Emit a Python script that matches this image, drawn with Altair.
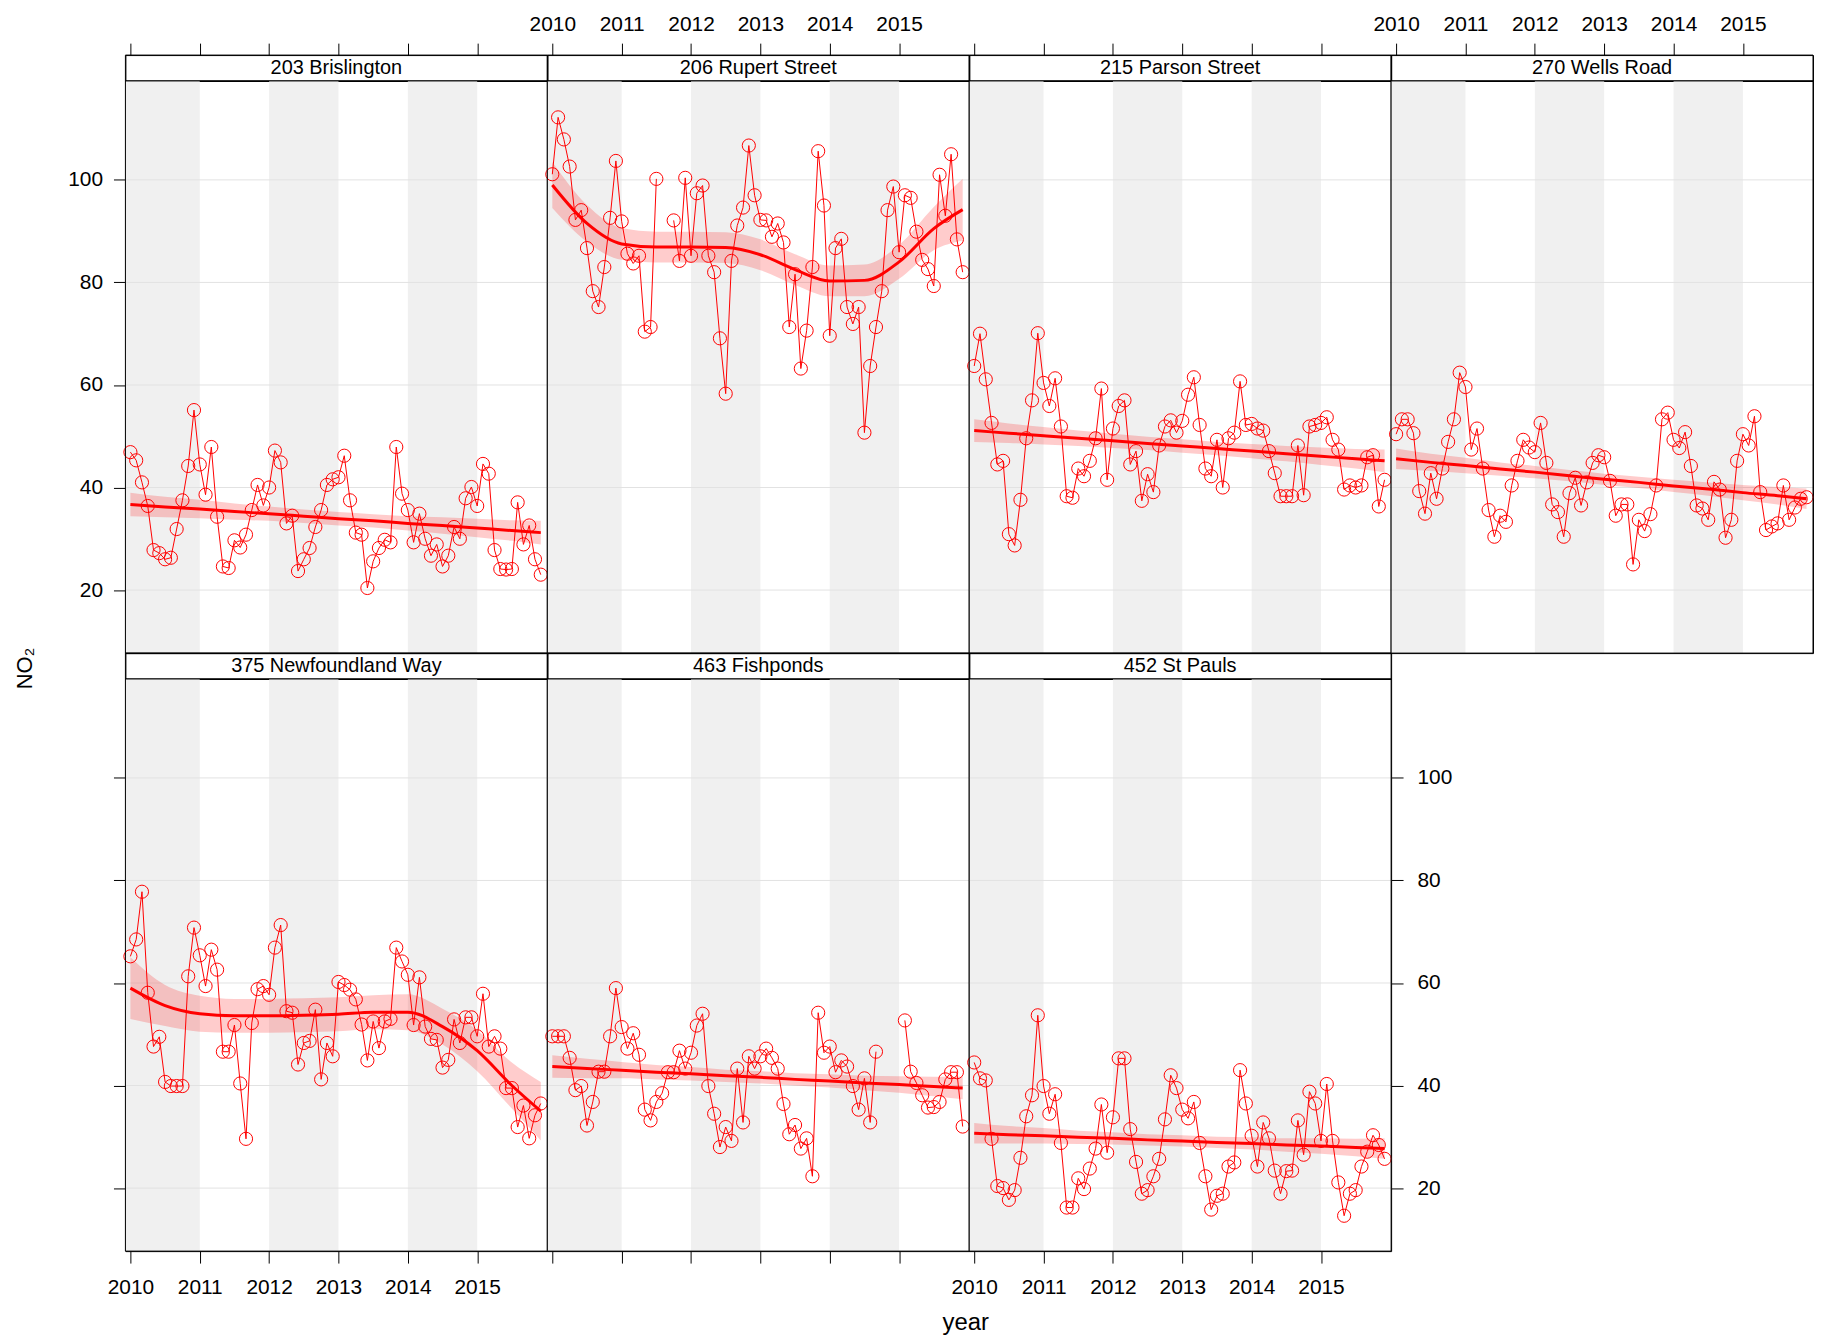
import altair as alt
import pandas as pd

FONT = "Liberation Sans"

SITES = ["203 Brislington", "206 Rupert Street", "215 Parson Street", "270 Wells Road",
         "375 Newfoundland Way", "463 Fishponds", "452 St Pauls"]
START_YEAR = 2010
N_MONTHS = 72

NO2_203 = [46.9, 45.3, 41.0, 36.4, 27.8, 27.2, 26.0, 26.3, 31.9, 37.5, 44.2, 55.1,
           44.5, 38.6, 47.9, 34.3, 24.6, 24.3, 29.7, 28.3, 30.8, 35.6, 40.5, 36.5,
           40.0, 47.2, 44.9, 33.0, 34.5, 23.7, 26.0, 28.2, 32.3, 35.6, 40.5, 41.6,
           42.0, 46.2, 37.5, 31.2, 30.8, 20.4, 25.6, 28.2, 29.8, 29.3, 47.9, 38.8,
           35.6, 29.3, 34.9, 30.0, 26.7, 28.9, 24.6, 26.7, 32.3, 30.0, 37.9, 40.1,
           36.4, 44.6, 42.7, 27.8, 24.1, 24.0, 24.1, 37.1, 28.9, 32.6, 26.0, 23.0]
NO2_206 = [101.1, 112.2, 107.9, 102.6, 92.2, 94.1, 86.7, 78.3, 75.2, 83.0, 92.6, 103.7,
           91.9, 85.6, 83.7, 85.2, 70.4, 71.3, 100.2, None, None, 92.1, 84.2, 100.4,
           85.2, 97.4, 98.9, 85.2, 82.0, 69.1, 58.3, 84.2, 91.1, 94.6, 106.7, 97.0,
           92.2, 92.1, 88.9, 91.5, 87.8, 71.3, 81.6, 63.2, 70.6, 83.0, 105.6, 95.0,
           69.6, 86.7, 88.5, 75.2, 71.9, 75.2, 50.7, 63.7, 71.3, 78.3, 94.1, 98.7,
           85.9, 97.0, 96.5, 89.9, 84.4, 82.6, 79.3, 101.0, 93.0, 105.0, 88.4, 82.0]
NO2_215 = [63.7, 70.0, 61.1, 52.6, 44.5, 45.2, 30.9, 28.7, 37.6, 49.6, 57.0, 70.1,
           60.4, 55.9, 61.3, 51.9, 38.3, 38.0, 43.7, 42.2, 45.2, 49.6, 59.3, 41.5,
           51.5, 55.9, 57.0, 44.5, 47.1, 37.4, 42.6, 39.1, 48.2, 51.9, 53.1, 50.7,
           53.0, 58.1, 61.5, 52.2, 43.7, 42.2, 49.3, 40.0, 49.6, 50.7, 60.7, 52.2,
           52.4, 51.5, 51.1, 47.1, 42.8, 38.3, 38.3, 38.3, 48.2, 38.5, 51.9, 52.2,
           52.6, 53.7, 49.3, 47.4, 39.6, 40.4, 40.0, 40.4, 45.9, 46.3, 36.3, 41.5]
NO2_270 = [50.4, 53.3, 53.3, 50.6, 39.3, 34.9, 42.8, 37.8, 43.7, 48.9, 53.3, 62.4,
           59.6, 47.4, 51.5, 43.7, 35.6, 30.4, 34.5, 33.3, 40.4, 45.2, 49.3, 47.8,
           46.9, 52.6, 44.8, 36.7, 35.2, 30.4, 38.9, 41.9, 36.5, 41.0, 44.8, 46.3,
           45.9, 41.3, 34.5, 36.7, 36.7, 25.0, 33.7, 31.5, 34.8, 40.4, 53.3, 54.6,
           49.3, 47.7, 50.8, 44.2, 36.5, 35.9, 33.7, 41.1, 39.6, 30.2, 33.7, 45.2,
           50.4, 48.2, 53.9, 39.1, 31.7, 32.4, 33.0, 40.4, 33.7, 36.1, 37.8, 38.1]
NO2_375 = [65.2, 68.5, 77.8, 58.1, 47.6, 49.5, 40.7, 39.9, 39.9, 39.9, 61.3, 70.8,
           65.4, 59.4, 66.5, 62.6, 46.6, 46.6, 51.8, 40.4, 29.6, 52.2, 58.8, 59.4,
           57.7, 66.9, 71.3, 54.5, 54.2, 44.1, 48.3, 48.7, 54.8, 41.2, 48.3, 45.7,
           60.2, 59.6, 58.7, 56.8, 51.9, 44.9, 52.5, 47.3, 52.5, 53.0, 66.9, 64.2,
           61.6, 51.8, 61.1, 51.5, 49.1, 48.9, 43.5, 45.0, 52.9, 48.3, 53.3, 53.3,
           49.6, 57.9, 47.6, 49.6, 47.2, 39.5, 39.5, 31.9, 36.1, 29.7, 34.2, 36.5]
NO2_463 = [49.6, 49.6, 49.6, 45.4, 39.1, 39.9, 32.2, 36.8, 42.7, 42.7, 49.6, 59.0,
           51.4, 47.2, 50.2, 46.0, 35.3, 33.2, 36.8, 38.5, 42.6, 42.6, 46.8, 43.3,
           46.4, 51.7, 54.0, 39.9, 34.5, 28.0, 31.9, 29.2, 43.3, 32.8, 45.7, 43.3,
           45.7, 47.2, 45.4, 43.3, 36.4, 30.5, 32.3, 27.7, 29.7, 22.3, 54.2, 46.4,
           47.6, 42.6, 44.9, 43.7, 39.9, 35.3, 41.4, 32.8, 46.6, None, None, None,
           None, 52.7, 42.7, 40.5, 38.1, 35.7, 35.8, 36.8, 41.2, 42.6, 42.6, 32.0]
NO2_452 = [44.5, 41.4, 41.0, 29.6, 20.4, 20.0, 17.7, 19.6, 25.9, 34.0, 38.1, 53.7,
           39.9, 34.5, 38.3, 28.8, 16.2, 16.2, 21.9, 19.8, 23.8, 27.7, 36.3, 26.9,
           33.8, 45.3, 45.3, 31.5, 25.1, 18.9, 19.6, 22.3, 25.7, 33.4, 42.0, 39.5,
           35.3, 33.6, 36.8, 28.8, 22.3, 15.8, 18.5, 18.9, 24.2, 25.0, 43.0, 36.5,
           30.2, 24.2, 32.8, 29.7, 23.4, 18.9, 23.3, 23.4, 33.2, 26.5, 38.8, 36.5,
           29.2, 40.3, 29.2, 21.1, 14.6, 18.9, 19.6, 24.2, 27.1, 30.3, 28.4, 25.7]

# smooth trend (at half-year knots) and band half-width
SMOOTH_X = [2010.0, 2010.5, 2011.0, 2011.5, 2012.0, 2012.5, 2013.0,
            2013.5, 2014.0, 2014.5, 2015.0, 2015.5, 2015.917]
FIT_203 = [36.7, 36.2, 35.8, 35.3, 34.9, 34.4, 33.9, 33.5, 33.0, 32.6, 32.1, 31.6, 31.2]
HALF_203 = [2.3, 2.0, 1.8, 1.6, 1.4, 1.3, 1.3, 1.3, 1.4, 1.6, 1.8, 2.0, 2.3]
FIT_206 = [99.0, 91.5, 87.5, 86.9, 86.9, 86.8, 85.4, 82.5, 80.3, 80.4, 84.0, 90.5, 94.2]
HALF_206 = [4.5, 3.6, 3.1, 3.0, 3.0, 3.0, 3.0, 3.0, 3.0, 3.1, 3.3, 4.2, 6.0]
FIT_215 = [51.1, 50.6, 50.1, 49.6, 49.1, 48.6, 48.1, 47.6, 47.1, 46.6, 46.1, 45.6, 45.2]
HALF_215 = [2.2, 1.9, 1.7, 1.5, 1.4, 1.3, 1.3, 1.3, 1.4, 1.5, 1.7, 1.9, 2.2]
FIT_270 = [45.6, 44.9, 44.3, 43.6, 43.0, 42.3, 41.6, 41.0, 40.3, 39.7, 39.0, 38.4, 37.8]
HALF_270 = [2.0, 1.7, 1.5, 1.3, 1.2, 1.1, 1.1, 1.1, 1.2, 1.3, 1.5, 1.7, 2.0]
FIT_375 = [59.0, 55.6, 54.0, 53.6, 53.6, 53.7, 53.9, 54.3, 54.3, 51.5, 46.8, 40.0, 35.0]
HALF_375 = [6.0, 4.0, 3.5, 3.3, 3.3, 3.3, 3.3, 3.3, 3.5, 3.5, 4.0, 4.5, 5.7]
FIT_463 = [43.7, 43.3, 43.0, 42.6, 42.3, 41.9, 41.6, 41.2, 40.9, 40.5, 40.2, 39.8, 39.5]
HALF_463 = [2.2, 1.9, 1.6, 1.4, 1.3, 1.2, 1.2, 1.2, 1.3, 1.4, 1.6, 1.9, 2.2]
FIT_452 = [30.7, 30.4, 30.2, 29.9, 29.7, 29.4, 29.2, 28.9, 28.7, 28.4, 28.2, 27.9, 27.7]
HALF_452 = [2.0, 1.7, 1.5, 1.3, 1.2, 1.1, 1.1, 1.1, 1.2, 1.3, 1.5, 1.7, 2.0]

YEARS = [2010, 2011, 2012, 2013, 2014, 2015]
Y_TICKS = [20, 40, 60, 80, 100]
SHADE_START = [2009, 2012, 2014]
SHADE_END = [2011, 2013, 2015]
X_DOMAIN = [2009.928, 2016.011]
Y_DOMAIN = [7.7, 119.3]

T = [START_YEAR + m / 12 for m in range(N_MONTHS)]

W, H, SH = 424, 575, 26
RED = "#FF0000"

xs = alt.Scale(domain=X_DOMAIN, nice=False, zero=False)
ys = alt.Scale(domain=Y_DOMAIN, nice=False, zero=False)

TICK = dict(ticks=True, tickSize=12, tickColor="black", domain=False, grid=False,
            labelFont=FONT, labelFontSize=21, labelColor="black")


def x_axis(labels, **kw):
    return alt.Axis(orient="bottom", values=YEARS, format="d", labels=labels,
                    labelPadding=31, labelBaseline="alphabetic", labelFlush=False,
                    title=kw.pop("title", None), **kw, **TICK)


def y_axis(orient, labels, pad, **kw):
    return alt.Axis(orient=orient, values=Y_TICKS, format="d", labels=labels,
                    labelPadding=pad, title=kw.pop("title", None), **kw, **TICK)


def frame(height):
    return alt.Chart(pd.DataFrame({"a": [0]})).mark_rect(
        fillOpacity=0, stroke="black", strokeWidth=1).encode(
        x=alt.value(0), x2=alt.value(W), y=alt.value(0), y2=alt.value(height))


def make_panel(values, fit, half, xaxis, yaxis):
    pts = pd.DataFrame({"t": T, "no2": values})
    sm = pd.DataFrame({"t": SMOOTH_X, "fit": fit,
                       "lo": [f - h for f, h in zip(fit, half)],
                       "hi": [f + h for f, h in zip(fit, half)]})
    shade = pd.DataFrame({"s": SHADE_START, "e": SHADE_END})
    grid = pd.DataFrame({"v": Y_TICKS})

    def X(f):
        return alt.X(f, type="quantitative", scale=xs, axis=xaxis)

    def Y(f):
        return alt.Y(f, type="quantitative", scale=ys, axis=yaxis)

    l_shade = alt.Chart(shade).mark_rect(color="#F0F0F0", clip=True).encode(x=X("s"), x2="e")
    l_grid = alt.Chart(grid).mark_rule(color="#E2E2E2", strokeWidth=1).encode(y=Y("v"))
    l_band = alt.Chart(sm).mark_area(color=RED, opacity=0.2, interpolate="monotone").encode(
        x=X("t"), y=Y("lo"), y2="hi")
    l_line = alt.Chart(pts).mark_line(color=RED, strokeWidth=1).encode(x=X("t"), y=Y("no2"))
    l_pts = alt.Chart(pts).mark_point(shape="circle", filled=False, color=RED, size=175,
                                      strokeWidth=1, opacity=1).encode(x=X("t"), y=Y("no2"))
    l_fit = alt.Chart(sm).mark_line(color=RED, strokeWidth=3, interpolate="monotone").encode(
        x=X("t"), y=Y("fit"))
    return alt.layer(l_shade, l_grid, l_band, l_line, l_pts, l_fit, frame(H)).properties(
        width=W, height=H)


def make_strip(name, top_labels=None):
    lab = pd.DataFrame({"label": [name]})
    txt = alt.Chart(lab).mark_text(font=FONT, fontSize=20, color="black").encode(
        text="label:N", x=alt.value(W / 2), y=alt.value(SH / 2))
    if top_labels is None:
        return alt.layer(txt, frame(SH)).properties(width=W, height=SH)
    ax = alt.Axis(orient="top", values=YEARS, format="d", labels=top_labels, labelPadding=13,
                  labelBaseline="alphabetic", labelFlush=False, title=None, **TICK)
    rule = alt.Chart(pd.DataFrame({"t": YEARS})).mark_rule(opacity=0).encode(
        x=alt.X("t:Q", scale=xs, axis=ax))
    return alt.layer(rule, txt, frame(SH)).properties(width=W, height=SH)


filler = alt.Chart(pd.DataFrame({"a": [0]})).mark_point(opacity=0).encode(
    x=alt.value(0), y=alt.value(0)).properties(
    width=W, height=SH, view=alt.ViewBackground(stroke="transparent"))

p1 = make_panel(NO2_203, FIT_203, HALF_203, None,
                y_axis("left", True, 11, title="NO₂", titleAngle=270, titleX=-101, titleY=590,
                       titleFontSize=22, titleAlign="center", titleBaseline="middle",
                       titleFont=FONT, titleFontWeight="normal", titleColor="black"))
p2 = make_panel(NO2_206, FIT_206, HALF_206, None, None)
p3 = make_panel(NO2_215, FIT_215, HALF_215, None, None)
p4 = make_panel(NO2_270, FIT_270, HALF_270, None, None)
p5 = make_panel(NO2_375, FIT_375, HALF_375, x_axis(True), y_axis("left", False, 11))
p6 = make_panel(NO2_463, FIT_463, HALF_463, x_axis(False), None)
p7 = make_panel(NO2_452, FIT_452, HALF_452,
                x_axis(True, title="year", titleX=-4, titleY=79, titleFontSize=24,
                       titleAlign="center", titleBaseline="alphabetic", titleFont=FONT,
                       titleFontWeight="normal", titleColor="black"),
                y_axis("right", True, 14))

cells = [make_strip(SITES[0], False), make_strip(SITES[1], True),
         make_strip(SITES[2], False), make_strip(SITES[3], True),
         p1, p2, p3, p4,
         make_strip(SITES[4]), make_strip(SITES[5]), make_strip(SITES[6]), filler,
         p5, p6, p7]

chart = alt.concat(*cells, columns=4, spacing=0, bounds="flush").properties(
    padding={"left": 5, "top": 1, "right": 0, "bottom": 0}
).configure_view(stroke="black", strokeWidth=1)

chart.save("out.html", embed_options={"renderer": "svg", "actions": False})
